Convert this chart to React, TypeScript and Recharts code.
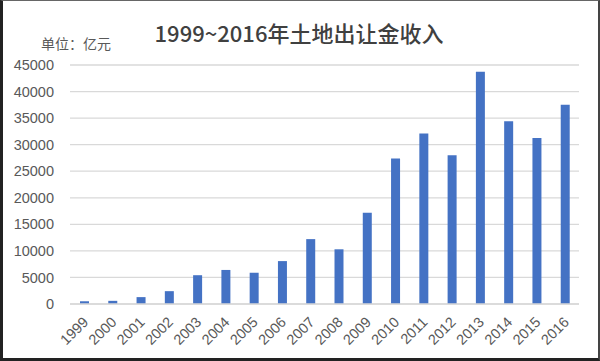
import React from "react";
import { BarChart, Bar, XAxis, YAxis, CartesianGrid } from "recharts";

const years = ["1999","2000","2001","2002","2003","2004","2005","2006","2007","2008","2009","2010","2011","2012","2013","2014","2015","2016"];
const revenue = [514, 596, 1296, 2417, 5421, 6412, 5884, 8078, 12217, 10300, 17180, 27400, 32100, 28000, 43745, 34400, 31250, 37500];
const yTicks = [0, 5000, 10000, 15000, 20000, 25000, 30000, 35000, 40000, 45000];
const titleText = "1999~2016年土地出让金收入";
const unitText = "单位：亿元";

const data = years.map((y, i) => ({ year: y, value: revenue[i] }));

const XTick = (props: any) => {
  const { x, y, payload } = props;
  const ax = x + 5;
  const ay = y + 11;
  return (
    <text
      x={ax}
      y={ay}
      textAnchor="end"
      fontSize={14.5}
      fill="#595959"
      fontFamily="'Liberation Sans', Arial, sans-serif"
      transform={`rotate(-45, ${ax}, ${ay})`}
    >
      {payload.value}
    </text>
  );
};

export default function App() {
  return (
    <div style={{ position: "absolute", left: 0, top: 0, width: 600, height: 361, background: "#fff", overflow: "hidden" }}>
      <BarChart
        width={600}
        height={361}
        data={data}
        margin={{ top: 65, right: 21, left: 10, bottom: 0 }}
      >
        <CartesianGrid vertical={false} stroke="#d9d9d9" strokeWidth={1.3} />
        <XAxis
          dataKey="year"
          height={57}
          interval={0}
          axisLine={{ stroke: "#d9d9d9", strokeWidth: 1.3 }}
          tickLine={false}
          tick={<XTick />}
        />
        <YAxis
          width={60}
          domain={[0, 45000]}
          ticks={yTicks}
          axisLine={false}
          tickLine={false}
          tickMargin={10}
          tick={{ fill: "#595959", fontSize: 14.5, fontFamily: "'Liberation Sans', Arial, sans-serif" }}
        />
        <Bar dataKey="value" fill="#4472C4" barSize={9} isAnimationActive={false} />
      </BarChart>
      <div
        style={{
          position: "absolute",
          left: 0,
          top: 17,
          width: 598,
          textAlign: "center",
          fontFamily: "'Noto Sans CJK SC', sans-serif",
          fontWeight: 500,
          fontSize: 22,
          color: "#404040",
          lineHeight: "30px",
        }}
      >
        {titleText}
      </div>
      <div
        style={{
          position: "absolute",
          left: 41,
          top: 33,
          fontFamily: "'Noto Sans CJK SC', sans-serif",
          fontSize: 14,
          color: "#595959",
          lineHeight: "20px",
        }}
      >
        {unitText}
      </div>
      <div
        style={{
          position: "absolute",
          left: 0,
          top: 0,
          width: 600,
          height: 361,
          boxSizing: "border-box",
          borderLeft: "3px solid #222",
          borderTop: "1px solid #666",
          borderRight: "2px solid #444",
          borderBottom: "3px solid #222",
          pointerEvents: "none",
        }}
      />
    </div>
  );
}
